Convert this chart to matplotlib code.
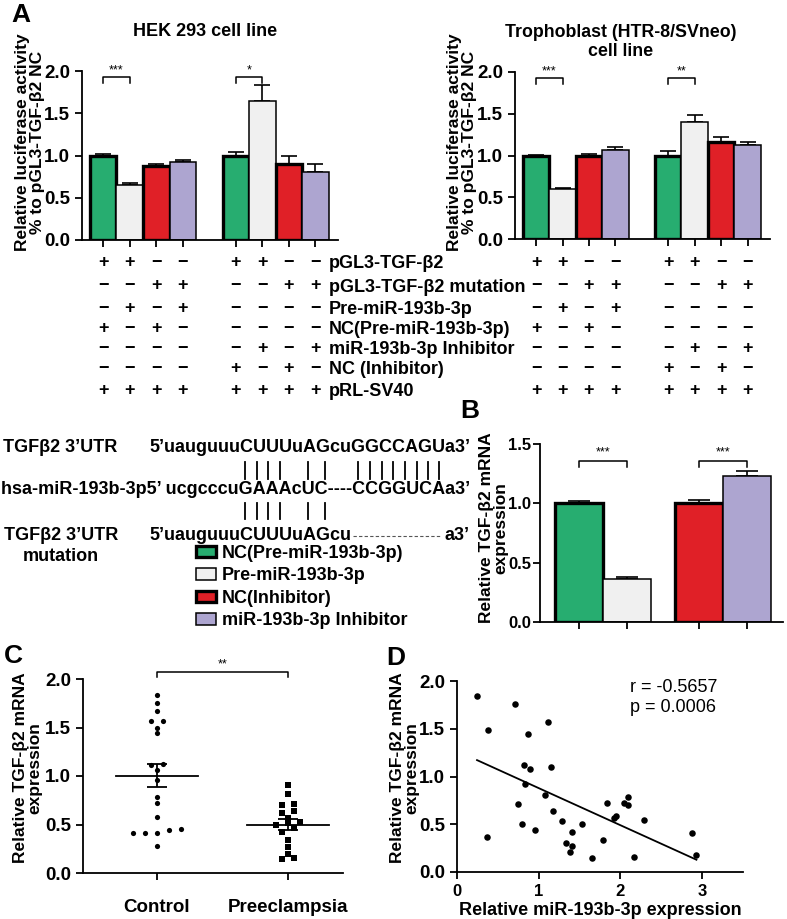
import numpy as np
import matplotlib
matplotlib.use("Agg")
import matplotlib.pyplot as plt
import matplotlib.transforms as mtransforms
from matplotlib.patches import Patch
from matplotlib.lines import Line2D

plt.rcParams['font.family'] = ['Liberation Sans', 'DejaVu Sans']
plt.rcParams['font.weight'] = 'bold'
plt.rcParams['axes.labelweight'] = 'bold'

# ---------------- data ----------------
groups_A = ["NC(Pre-miR-193b-3p)", "Pre-miR-193b-3p", "NC(Inhibitor)", "miR-193b-3p Inhibitor"]
colors = ["#27ad70", "#f0f0f0", "#e02027", "#ada5d0"]
edge_w = [2.4, 1.1, 2.4, 1.1]

hek_wt = [1.00, 0.65, 0.88, 0.92]
hek_wt_err = [0.02, 0.03, 0.02, 0.03]
hek_inh = [1.00, 1.65, 0.90, 0.80]
hek_inh_err = [0.04, 0.18, 0.10, 0.10]

tro_wt = [1.00, 0.60, 1.00, 1.07]
tro_wt_err = [0.01, 0.01, 0.02, 0.03]
tro_inh = [1.00, 1.40, 1.16, 1.12]
tro_inh_err = [0.05, 0.08, 0.06, 0.04]

sig_hek = ["***", "*"]
sig_tro = ["***", "**"]

table_rows = ["pGL3-TGF-β2", "pGL3-TGF-β2 mutation", "Pre-miR-193b-3p",
              "NC(Pre-miR-193b-3p)", "miR-193b-3p Inhibitor", "NC (Inhibitor)", "pRL-SV40"]
table_g1 = ["++--", "--++", "-+-+", "+-+-", "----", "----", "++++"]
table_g2 = ["++--", "--++", "----", "----", "-+-+", "+-+-", "++++"]

B_vals = [1.00, 0.36, 1.00, 1.23]
B_err = [0.02, 0.02, 0.03, 0.04]

C_control = [1.84, 1.75, 1.67, 1.57, 1.57, 1.50, 1.44, 1.12, 1.11, 1.06, 0.96,
             0.78, 0.72, 0.58, 0.44, 0.41, 0.41, 0.41, 0.45, 0.28]
C_pe = [0.91, 0.81, 0.71, 0.70, 0.64, 0.62, 0.57, 0.53, 0.52, 0.50, 0.46,
        0.42, 0.34, 0.27, 0.20, 0.15, 0.14]
C_cats = ["Control", "Preeclampsia"]

D_x = [0.245, 0.38, 0.37, 0.71, 0.87, 0.75, 0.82, 0.83, 0.80, 0.89, 0.95, 1.11,
       1.15, 1.08, 1.17, 1.28, 1.34, 1.38, 1.41, 1.41, 1.53, 1.65, 1.79, 1.84,
       1.92, 1.95, 2.04, 2.09, 2.09, 2.16, 2.29, 2.87, 2.93]
D_y = [1.84, 1.49, 0.37, 1.76, 1.45, 0.71, 1.12, 0.92, 0.50, 1.08, 0.44, 1.57,
       1.10, 0.81, 0.64, 0.53, 0.30, 0.21, 0.42, 0.27, 0.50, 0.15, 0.34, 0.72,
       0.57, 0.59, 0.72, 0.70, 0.79, 0.16, 0.54, 0.41, 0.18]
D_stats = ["r = -0.5657", "p = 0.0006"]

# ---------------- figure ----------------
W, H = 787, 919
fig = plt.figure(figsize=(W / 100, H / 100), dpi=100)

def rect(l, t, r, b):
    return [l / W, 1 - b / H, (r - l) / W, (b - t) / H]

def fx(x):
    return x / W

def fy(y):
    return 1 - y / H

TICK_FS = 13.5
LAB_FS = 12.5

def style(ax):
    for s in ["top", "right"]:
        ax.spines[s].set_visible(False)
    for s in ["left", "bottom"]:
        ax.spines[s].set_linewidth(1.3)
    ax.tick_params(width=1.3, length=5, labelsize=TICK_FS, direction='out')
    for lab in ax.get_yticklabels() + ax.get_xticklabels():
        lab.set_fontweight('bold')

def bracket(ax, x1, x2, y, h, txt, fs=9, dy=0.0):
    ax.plot([x1, x1, x2, x2], [y - h, y, y, y - h], color='black', lw=1.1, clip_on=False)
    ax.text((x1 + x2) / 2, y + dy, txt, ha='center', va='bottom', fontsize=fs,
            fontweight='normal', clip_on=False)

def panelA(ax, wt, wt_err, inh, inh_err, sig):
    pos1 = np.arange(1, 5)
    pos2 = np.arange(6, 10)
    for pos, vals, errs in [(pos1, wt, wt_err), (pos2, inh, inh_err)]:
        for i in range(4):
            ax.bar(pos[i], vals[i], width=1.0, color=colors[i], edgecolor='black',
                   linewidth=edge_w[i], zorder=2)
            ax.errorbar(pos[i], vals[i], yerr=[[0], [errs[i]]], color='black',
                        capsize=6, elinewidth=1.2, capthick=1.2, zorder=1)
    ax.set_xlim(0.2, 9.85)
    ax.set_ylim(0, 2.0)
    ax.set_yticks([0, 0.5, 1.0, 1.5, 2.0])
    ax.set_yticklabels(["0.0", "0.5", "1.0", "1.5", "2.0"])
    ax.set_xticks(list(pos1) + list(pos2))
    ax.set_xticklabels([])
    style(ax)
    bracket(ax, 1, 2, 1.93, 0.07, sig[0], dy=0.0)
    bracket(ax, 6, 7, 1.93, 0.07, sig[1], dy=0.0)
    return pos1, pos2

axA1 = fig.add_axes(rect(82, 71, 338, 240))
p1, p2 = panelA(axA1, hek_wt, hek_wt_err, hek_inh, hek_inh_err, sig_hek)
axA2 = fig.add_axes(rect(515, 72, 770, 239))
panelA(axA2, tro_wt, tro_wt_err, tro_inh, tro_inh_err, sig_tro)

fig.text(fx(205), fy(32), "HEK 293 cell line", ha='center', va='center', fontsize=13)
fig.text(fx(621), fy(42), "Trophoblast (HTR-8/SVneo)\ncell line", ha='center', va='center',
         fontsize=12.8, linespacing=1.2)
ylabA = "Relative luciferase activity\n% to pGL3-TGF-β2 NC"
fig.text(fx(30), fy(142), ylabA, rotation=90, ha='center', va='center', fontsize=LAB_FS,
         linespacing=0.95)
fig.text(fx(462), fy(142), ylabA, rotation=90, ha='center', va='center', fontsize=LAB_FS,
         linespacing=0.95)

# table of +/- signs
row_y = [262, 286, 308, 329, 349, 369, 391]
for ax in (axA1, axA2):
    tr = mtransforms.blended_transform_factory(ax.transData, fig.transFigure)
    for r, (g1, g2) in enumerate(zip(table_g1, table_g2)):
        for k, ch in enumerate(g1 + g2):
            xpos = list(p1)[k] if k < 4 else list(p2)[k - 4]
            sym = "+" if ch == "+" else "−"
            fig.text(xpos, fy(row_y[r]), sym, transform=tr, ha='center', va='center',
                     fontsize=13)
for r, lab in enumerate(table_rows):
    fig.text(fx(329), fy(row_y[r] + 1), lab, ha='left', va='center', fontsize=13)

# ---------------- sequences ----------------
SEQ_FS = 13
fig.text(fx(3), fy(447), "TGFβ2 3’UTR", ha='left', va='center', fontsize=SEQ_FS)
fig.text(fx(470), fy(447), "5’uauguuuCUUUuAGcuGGCCAGUa3’", ha='right', va='center', fontsize=SEQ_FS)
fig.text(fx(470), fy(489), "hsa-miR-193b-3p5’ ucgcccuGAAAcUC----CCGGUCAa3’", ha='right',
         va='center', fontsize=SEQ_FS)
fig.text(fx(61), fy(546), "TGFβ2 3’UTR\nmutation", ha='center', va='center', fontsize=SEQ_FS,
         linespacing=1.25)
fig.text(fx(149), fy(535), "5’uauguuuCUUUuAGcu", ha='left', va='center', fontsize=SEQ_FS)
fig.text(fx(470), fy(535), "a3’", ha='right', va='center', fontsize=SEQ_FS)
fig.add_artist(Line2D([fx(353), fx(441)], [fy(536), fy(536)], color='#555555', lw=0.8,
                      linestyle=(0, (3, 2))))
pair1 = [245, 257, 268, 280, 308, 325, 358, 370, 382, 393, 405, 417, 428, 439]
pair2 = [245, 257, 268, 280, 308, 325]
for xp in pair1:
    fig.add_artist(Line2D([fx(xp), fx(xp)], [fy(462), fy(479)], color='black', lw=1.3))
for xp in pair2:
    fig.add_artist(Line2D([fx(xp), fx(xp)], [fy(503), fy(519)], color='black', lw=1.3))

handles = [Patch(facecolor=colors[i], edgecolor='black', linewidth=edge_w[i]) for i in range(4)]
fig.legend(handles, groups_A, loc='upper left', bbox_to_anchor=(fx(196), fy(545)),
           frameon=False, fontsize=13, handlelength=1.1, handleheight=0.6,
           handletextpad=0.35, labelspacing=0.3, borderpad=0, borderaxespad=0)

# ---------------- panel B ----------------
axB = fig.add_axes(rect(540, 444, 783, 622))
posB = [1, 2, 3.5, 4.5]
for i in range(4):
    axB.bar(posB[i], B_vals[i], width=1.0, color=colors[i], edgecolor='black',
            linewidth=edge_w[i], zorder=2)
    axB.errorbar(posB[i], B_vals[i], yerr=[[0], [B_err[i]]], color='black', capsize=8,
                 elinewidth=1.2, capthick=1.2, zorder=1)
axB.set_xlim(0.19, 5.25)
axB.set_ylim(0, 1.5)
axB.set_yticks([0, 0.5, 1.0, 1.5])
axB.set_yticklabels(["0.0", "0.5", "1.0", "1.5"])
axB.set_xticks(posB)
axB.set_xticklabels([])
style(axB)
axB.tick_params(axis='y', labelsize=12, pad=1.5)
bracket(axB, 1, 2, 1.36, 0.05, "***", fs=9, dy=0.02)
bracket(axB, 3.5, 4.5, 1.36, 0.05, "***", fs=9, dy=0.02)
fig.text(fx(494), fy(528), "Relative TGF-β2 mRNA\nexpression", rotation=90, ha='center',
         va='center', fontsize=LAB_FS, linespacing=0.92)

# ---------------- panel C ----------------
axC = fig.add_axes(rect(83, 679, 343, 873))

def swarm(vals, tol, step):
    vals = np.asarray(vals, dtype=float)
    order = np.argsort(vals)
    offs = np.zeros(len(vals))
    bins = []
    for idx in order:
        if bins and vals[idx] - vals[bins[-1][0]] < tol:
            bins[-1].append(idx)
        else:
            bins.append([idx])
    for b in bins:
        n = len(b)
        for j, idx in enumerate(b):
            offs[idx] = (j - (n - 1) / 2) * step
    return offs

for k, (vals, mk, ms) in enumerate([(C_control, 'o', 14), (C_pe, 's', 16)]):
    offs = swarm(vals, 0.045, 0.09)
    axC.scatter(k + offs, vals, marker=mk, s=ms, color='black', zorder=3, linewidths=0)
    m = np.mean(vals)
    se = np.std(vals, ddof=1) / np.sqrt(len(vals))
    axC.plot([k - 0.31, k + 0.31], [m, m], color='black', lw=1.3)
    axC.errorbar(k, m, yerr=se, color='black', capsize=7, elinewidth=1.3, capthick=1.3)
axC.set_xlim(-0.565, 1.42)
axC.set_ylim(0, 2.0)
axC.set_yticks([0, 0.5, 1.0, 1.5, 2.0])
axC.set_yticklabels(["0.0", "0.5", "1.0", "1.5", "2.0"])
axC.set_xticks([0, 1])
axC.set_xticklabels(C_cats)
style(axC)
axC.tick_params(axis='x', pad=14)
bracket(axC, 0, 1, 2.075, 0.05, "**", fs=9, dy=0.01)
fig.text(fx(28), fy(768), "Relative TGF-β2 mRNA\nexpression", rotation=90, ha='center',
         va='center', fontsize=LAB_FS, linespacing=0.95)

# ---------------- panel D ----------------
axD = fig.add_axes(rect(457, 681, 743, 872))
axD.scatter(D_x, D_y, s=22, color='black', zorder=3, linewidths=0)
coef = np.polyfit(D_x, D_y, 1)
xx = np.array([min(D_x), max(D_x)])
axD.plot(xx, np.polyval(coef, xx), color='black', lw=1.3)
axD.set_xlim(0, 3.5)
axD.set_ylim(0, 2.0)
axD.set_xticks([0, 1, 2, 3])
axD.set_yticks([0, 0.5, 1.0, 1.5, 2.0])
axD.set_yticklabels(["0.0", "0.5", "1.0", "1.5", "2.0"])
style(axD)
axD.tick_params(axis='x', labelsize=12)
axD.set_xlabel("Relative miR-193b-3p expression", fontsize=13, labelpad=2)
fig.text(fx(630), fy(687), D_stats[0], ha='left', va='center', fontsize=13, fontweight='normal')
fig.text(fx(630), fy(708), D_stats[1], ha='left', va='center', fontsize=13, fontweight='normal')
fig.text(fx(405), fy(768), "Relative TGF-β2 mRNA\nexpression", rotation=90, ha='center',
         va='center', fontsize=LAB_FS, linespacing=0.95)

# panel letters
for t, x, y in [("A", 21, 15), ("B", 470, 411), ("C", 13, 656), ("D", 396, 658)]:
    fig.text(fx(x), fy(y), t, ha='center', va='center', fontsize=19)

fig.savefig("out.png", dpi=100)
